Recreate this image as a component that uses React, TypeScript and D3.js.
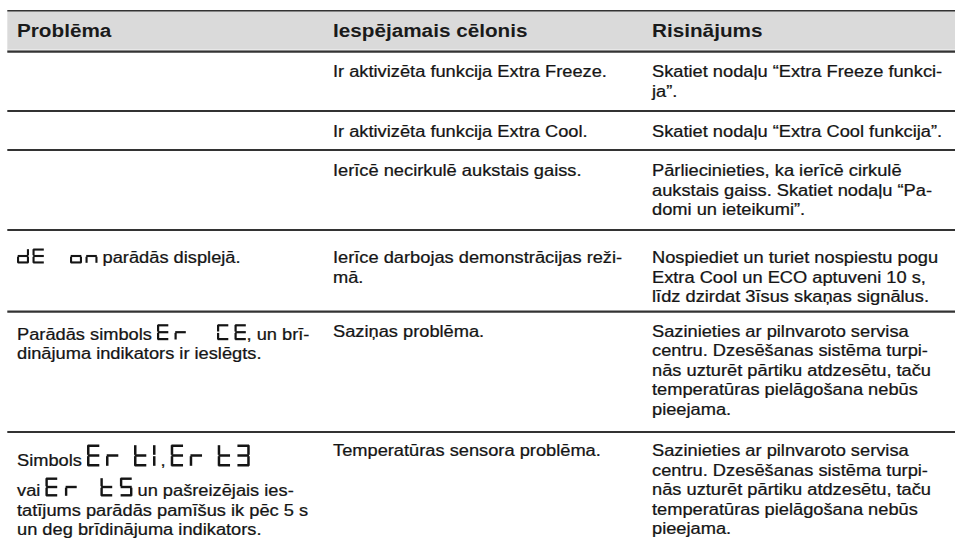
import React, { useEffect, useRef } from "react";
import * as d3 from "d3";

// ---------- DATA ----------
const headers = ["Problēma", "Iespējamais cēlonis", "Risinājums"];

type Run = string | { seg: string; size: string };

const problems: Run[][][] = [
  [],
  [],
  [],
  [[{ seg: "dE on", size: "s" }, " parādās displejā."]],
  [
    ["Parādās simbols ", { seg: "Er CE", size: "m" }, ", un brī-"],
    ["dinājuma indikators ir ieslēgts."],
  ],
  [
    ["Simbols ", { seg: "Er t1", size: "l" }, " , ", { seg: "Er t3", size: "l" }],
    ["vai ", { seg: "Er t5", size: "l2" }, " un pašreizējais ies-"],
    ["tatījums parādās pamīšus ik pēc 5 s"],
    ["un deg brīdinājuma indikators."],
  ],
];

const causes: string[][] = [
  ["Ir aktivizēta funkcija Extra Freeze."],
  ["Ir aktivizēta funkcija Extra Cool."],
  ["Ierīcē necirkulē aukstais gaiss."],
  ["Ierīce darbojas demonstrācijas reži-", "mā."],
  ["Saziņas problēma."],
  ["Temperatūras sensora problēma."],
];

const solutions: string[][] = [
  ["Skatiet nodaļu “Extra Freeze funkci-", "ja”."],
  ["Skatiet nodaļu “Extra Cool funkcija”."],
  ["Pārliecinieties, ka ierīcē cirkulē", "aukstais gaiss. Skatiet nodaļu “Pa-", "domi un ieteikumi”."],
  ["Nospiediet un turiet nospiestu pogu", "Extra Cool un ECO aptuveni 10 s,", "līdz dzirdat 3īsus skaņas signālus."],
  [
    "Sazinieties ar pilnvaroto servisa",
    "centru. Dzesēšanas sistēma turpi-",
    "nās uzturēt pārtiku atdzesētu, taču",
    "temperatūras pielāgošana nebūs",
    "pieejama.",
  ],
  [
    "Sazinieties ar pilnvaroto servisa",
    "centru. Dzesēšanas sistēma turpi-",
    "nās uzturēt pārtiku atdzesētu, taču",
    "temperatūras pielāgošana nebūs",
    "pieejama.",
  ],
];

// seven-segment map
const segmentMap: Record<string, string> = {
  E: "adefg",
  r: "eg",
  t: "defg",
  "1": "ef",
  "3": "abcdg",
  "5": "acdfg",
  d: "bcdeg",
  o: "cdeg",
  n: "ceg",
  C: "adef",
};

// ---------- STYLE / LAYOUT ----------
const FONT = "'Liberation Sans', Arial, Helvetica, sans-serif";
const SX = 1.114;
const BODY_SIZE = 16.4;
const HEAD_SIZE = 18.6;
const TEXT_COLOR = "#151515";
const RULE_COLOR = "#333333";
const X0 = 7.3;
const WIDTH = 955;
const HEIGHT = 557;
const TOP = 10.7;
const HEAD_BOTTOM = 51.7;
const HEAD_BASE = 36.7;
const ROW_TOPS = [51.7, 111, 150, 230, 311.7, 432];
const ROW_OFFSETS = [25.3, 26, 26, 33, 25, 24];
const LH = 19.5;

const glyphStyles: Record<string, { h: number; w: number; pitch: number; sp: number; t: number }> = {
  s: { h: 15, w: 12, pitch: 15.5, sp: 22, t: 2.1 },
  m: { h: 16, w: 12, pitch: 17.5, sp: 25, t: 2.2 },
  l: { h: 22, w: 13, pitch: 19, sp: 9, t: 2.5 },
  l2: { h: 19, w: 12.5, pitch: 19.5, sp: 16, t: 2.4 },
};

function runGlyphH(line: Run[]): number {
  let m = 0;
  line.forEach((r) => {
    if (typeof r !== "string") m = Math.max(m, glyphStyles[r.size].h);
  });
  return m;
}

// keep leading / trailing spaces visible in SVG text
function keepSpaces(s: string): string {
  return s.replace(/^ +| +$/g, (m) => "\u00A0".repeat(m.length));
}

export default function App() {
  const ref = useRef<SVGSVGElement>(null);

  useEffect(() => {
    const svg = d3.select(ref.current);
    svg.selectAll("*").remove();

    const colX = d3.scaleOrdinal<string, number>().domain(headers).range([17, 333, 652]);

    // header band
    svg
      .append("rect")
      .attr("x", X0)
      .attr("y", TOP)
      .attr("width", WIDTH - X0)
      .attr("height", HEAD_BOTTOM - TOP)
      .attr("fill", "#dadada");
    svg
      .append("line")
      .attr("x1", X0)
      .attr("x2", WIDTH)
      .attr("y1", TOP)
      .attr("y2", TOP)
      .attr("stroke", RULE_COLOR)
      .attr("stroke-width", 1.6);
    svg
      .append("line")
      .attr("x1", X0)
      .attr("x2", WIDTH)
      .attr("y1", HEAD_BOTTOM - 1.8)
      .attr("y2", HEAD_BOTTOM - 1.8)
      .attr("stroke", "#f0f0f0")
      .attr("stroke-width", 1);

    // rules below header and each row
    ROW_TOPS.forEach((y) => {
      svg
        .append("line")
        .attr("x1", X0)
        .attr("x2", WIDTH)
        .attr("y1", y)
        .attr("y2", y)
        .attr("stroke", RULE_COLOR)
        .attr("stroke-width", 2.2);
    });

    // headers
    headers.forEach((h) => {
      svg
        .append("text")
        .attr("transform", `translate(${colX(h)},${HEAD_BASE}) scale(${SX},1)`)
        .attr("font-family", FONT)
        .attr("font-size", HEAD_SIZE)
        .attr("font-weight", "bold")
        .attr("fill", "#1a1a1a")
        .text(h);
    });

    const body = svg.append("g");

    const drawGlyphs = (str: string, size: string, x: number, baseline: number): number => {
      const st = glyphStyles[size];
      const gap = 0.7;
      const y0 = baseline + 0.5 - st.h;
      let cx = x;
      let end = x;
      for (const ch of str) {
        if (ch === " ") {
          cx += st.sp;
          continue;
        }
        const segs = segmentMap[ch] || "";
        const w = st.w;
        const h = st.h;
        const t = st.t;
        const half = h / 2;
        const rects: Record<string, [number, number, number, number]> = {
          a: [cx + gap, y0, w - 2 * gap, t],
          d: [cx + gap, y0 + h - t, w - 2 * gap, t],
          g: [cx + gap, y0 + half - t / 2, w - 2 * gap, t],
          f: [cx, y0 + gap, t, half - 2 * gap],
          e: [cx, y0 + half + gap, t, half - 2 * gap],
          b: [cx + w - t, y0 + gap, t, half - 2 * gap],
          c: [cx + w - t, y0 + half + gap, t, half - 2 * gap],
        };
        for (const s of segs) {
          const r = rects[s];
          body
            .append("rect")
            .attr("x", r[0])
            .attr("y", r[1])
            .attr("width", r[2])
            .attr("height", r[3])
            .attr("fill", TEXT_COLOR);
        }
        end = ch === "1" ? cx + t : cx + w;
        cx += ch === "1" ? t + 2 : st.pitch;
      }
      return end;
    };

    const drawLine = (runs: Run[], x: number, baseline: number) => {
      let cx = x;
      runs.forEach((r) => {
        if (typeof r === "string") {
          const t = body
            .append("text")
            .attr("transform", `translate(${cx},${baseline}) scale(${SX},1)`)
            .attr("font-family", FONT)
            .attr("font-size", BODY_SIZE)
            .attr("fill", TEXT_COLOR)
            .attr("stroke", TEXT_COLOR)
            .attr("stroke-width", 0.25)
            .text(keepSpaces(r));
          const node = t.node() as SVGTextElement;
          cx += node.getComputedTextLength() * SX;
        } else {
          cx = drawGlyphs(r.seg, r.size, cx, baseline);
        }
      });
    };

    const drawCell = (lines: Run[][], x: number, rowIdx: number) => {
      const top = ROW_TOPS[rowIdx];
      let base = 0;
      lines.forEach((line, i) => {
        const gh = runGlyphH(line);
        if (i === 0) {
          base = top + Math.max(ROW_OFFSETS[rowIdx], gh ? gh + 12 : 0);
        } else {
          base += Math.max(LH, gh ? gh + 11 : 0);
        }
        drawLine(line, x, base);
      });
    };

    problems.forEach((cell, i) => drawCell(cell, colX(headers[0]), i));
    causes.forEach((cell, i) => drawCell(cell.map((s) => [s]), colX(headers[1]), i));
    solutions.forEach((cell, i) => drawCell(cell.map((s) => [s]), colX(headers[2]), i));
  }, []);

  return (
    <div style={{ position: "absolute", left: 0, top: 0 }}>
      <svg ref={ref} width={WIDTH} height={HEIGHT} style={{ display: "block", background: "#fff" }} />
    </div>
  );
}
